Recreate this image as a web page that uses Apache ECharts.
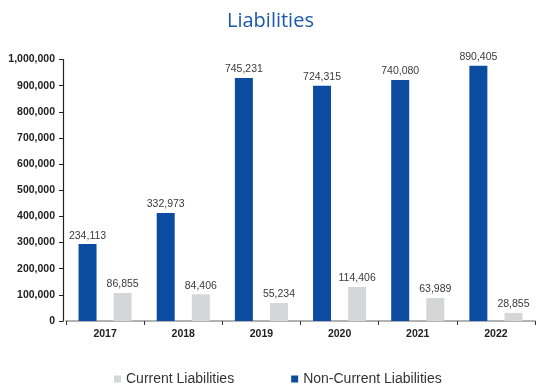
<!DOCTYPE html>
<html>
<head>
<meta charset="utf-8">
<script src="https://cdn.jsdelivr.net/npm/echarts@6/dist/echarts.min.js"></script>
<style>html,body{margin:0;padding:0;background:#fff}#c{width:544px;height:389px}</style>
</head>
<body>
<div id="c"></div>
<script>
const categories = ['2017','2018','2019','2020','2021','2022'];
// bar heights as drawn in the picture
const nonCurrentBars = [294000, 413000, 929000, 900000, 922000, 976000];
const currentBars = [107000, 102000, 69000, 130000, 88000, 31000];
// value labels as printed
const nonCurrentLabels = ['234,113','332,973','745,231','724,315','740,080','890,405'];
const currentLabels = ['86,855','84,406','55,234','114,406','63,989','28,855'];
const yTicks = [0,100000,200000,300000,400000,500000,600000,700000,800000,900000,1000000];

const chart = echarts.init(document.getElementById('c'), null, {renderer:'canvas'});
const labelStyle = {show:true, position:'top', distance:3, fontFamily:'Liberation Sans, Arial, sans-serif', fontSize:10.5, color:'#3a3a3a'};
chart.setOption({
  animation:false,
  title:{text:'Liabilities', left:222, top:6, textStyle:{fontFamily:'Open Sans, sans-serif', fontWeight:'normal', fontSize:20, color:'#1a5aa8'}},
  grid:{left:66, right:9, top:59.5, bottom:68},
  legend:{top:367, left:109, itemGap:57, itemWidth:7, itemHeight:7, icon:'rect',
    data:['Current Liabilities','Non-Current Liabilities'],
    textStyle:{fontFamily:'Liberation Sans, Arial, sans-serif', fontSize:14, lineHeight:14, color:'#333'}},
  xAxis:{type:'category', data:categories,
    axisLine:{lineStyle:{color:'#999', width:1.5}},
    axisTick:{show:true, length:4, lineStyle:{color:'#333'}},
    axisLabel:{fontFamily:'Liberation Sans, Arial, sans-serif', fontWeight:'bold', fontSize:10.5, color:'#222', margin:8}},
  yAxis:{type:'value', min:yTicks[0], max:yTicks[yTicks.length-1], interval:yTicks[1]-yTicks[0], offset:3,
    splitLine:{show:false},
    axisLine:{show:true, lineStyle:{color:'#222', width:1.2}},
    axisTick:{show:true, length:4, lineStyle:{color:'#222'}},
    axisLabel:{fontFamily:'Liberation Sans, Arial, sans-serif', fontWeight:'bold', fontSize:10.5, color:'#222', margin:8,
      formatter:v=>v.toLocaleString('en-US')}},
  series:[
    {name:'Non-Current Liabilities', type:'bar', data:nonCurrentBars, barWidth:18, barGap:'95%', barCategoryGap:'33%',
      itemStyle:{color:'#0b4ca0'},
      label:Object.assign({}, labelStyle, {formatter:p=>nonCurrentLabels[p.dataIndex]})},
    {name:'Current Liabilities', type:'bar', data:currentBars, barWidth:18,
      itemStyle:{color:'#d5d6d8'},
      label:Object.assign({}, labelStyle, {formatter:p=>currentLabels[p.dataIndex]})}
  ]
});
</script>
</body>
</html>
